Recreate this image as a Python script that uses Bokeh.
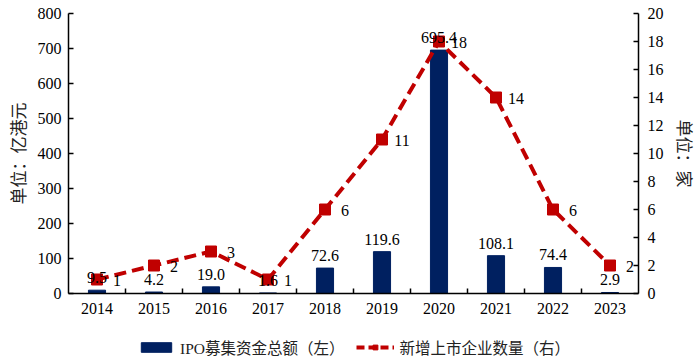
from bokeh.plotting import figure
from bokeh.layouts import column
from bokeh.models import (Range1d, LinearAxis, FixedTicker, ColumnDataSource,
                          Legend, LegendItem, LabelSet)
from bokeh.embed import file_html
from bokeh.resources import INLINE

years = [2014, 2015, 2016, 2017, 2018, 2019, 2020, 2021, 2022, 2023]
ipo_funds = [9.5, 4.2, 19.0, 1.6, 72.6, 119.6, 695.4, 108.1, 74.4, 2.9]
new_listings = [1, 2, 3, 1, 6, 11, 18, 14, 6, 2]
fund_labels = ["9.5", "4.2", "19.0", "1.6", "72.6", "119.6", "695.4", "108.1", "74.4", "2.9"]
count_labels = [str(v) for v in new_listings]
series_names = ["IPO募集资金总额（左）", "新增上市企业数量（右）"]

BAR = "#002060"
RED = "#C00000"
SERIF = "Liberation Serif"
MIX = "'Liberation Serif', 'Noto Sans CJK SC'"

src = ColumnDataSource(dict(x=years, funds=ipo_funds, cnt=new_listings,
                            flab=fund_labels, clab=count_labels))

p = figure(width=700, height=330, output_backend="svg", toolbar_location=None,
           x_range=Range1d(2013.5, 2023.5), y_range=Range1d(0, 800),
           min_border_left=68, min_border_right=60, min_border_top=13,
           min_border_bottom=37)
p.outline_line_color = None
p.grid.visible = False
p.extra_y_ranges = {"cnt": Range1d(0, 20)}

# x axis: year labels at centres, small inward ticks between categories
xa = p.xaxis[0]
xa.ticker = FixedTicker(ticks=years, minor_ticks=[y + 0.5 for y in years[:-1]])
xa.major_tick_in = 0
xa.major_tick_out = 0
xa.minor_tick_in = 5
xa.minor_tick_out = 0
xa.major_label_standoff = 9
xa.axis_line_color = "black"
xa.axis_line_width = 1.5
xa.minor_tick_line_width = 1.5
xa.major_label_text_font = SERIF
xa.major_label_text_font_size = "16px"
xa.major_label_text_color = "black"

yl = p.yaxis[0]
yl.ticker = FixedTicker(ticks=list(range(0, 801, 100)), minor_ticks=[])
yl.major_tick_in = 5
yl.major_tick_out = 0
yl.major_label_standoff = 7
yl.axis_line_width = 1.5
yl.major_tick_line_width = 1.5
yl.major_label_text_font = SERIF
yl.major_label_text_font_size = "16px"
yl.major_label_text_color = "black"
yl.axis_label = "单位：亿港元"
yl.axis_label_text_font = "Noto Sans CJK SC"
yl.axis_label_text_font_size = "17px"
yl.axis_label_text_font_style = "normal"
yl.axis_label_text_color = "#222222"
yl.axis_label_standoff = 5

yr = LinearAxis(y_range_name="cnt",
                ticker=FixedTicker(ticks=list(range(0, 21, 2)), minor_ticks=[]))
yr.major_tick_in = 5
yr.major_tick_out = 0
yr.major_label_standoff = 9
yr.axis_line_width = 1.5
yr.major_tick_line_width = 1.5
yr.major_label_text_font = SERIF
yr.major_label_text_font_size = "16px"
yr.major_label_text_color = "black"
yr.axis_label = "单位：家"
yr.axis_label_text_font = "Noto Sans CJK SC"
yr.axis_label_text_font_size = "17px"
yr.axis_label_text_font_style = "normal"
yr.axis_label_text_color = "#222222"
yr.axis_label_standoff = 6
p.add_layout(yr, "right")

# bars
p.vbar(x="x", top="funds", width=0.3, color=BAR, source=src)

# line + markers
p.line(x="x", y="cnt", y_range_name="cnt", line_color=RED, line_width=4,
       line_dash="12 6", source=src)
p.scatter(x="x", y="cnt", y_range_name="cnt", marker="square", size=11,
          fill_color=RED, line_color=RED, source=src)

# value labels
p.add_layout(LabelSet(x="x", y="funds", text="flab", source=src, text_align="center",
                      text_baseline="bottom", y_offset=7, text_font=SERIF,
                      text_font_size="16px", text_color="black"))
p.add_layout(LabelSet(x="x", y="cnt", y_range_name="cnt", text="clab", source=src,
                      text_align="center", text_baseline="middle", x_offset=20,
                      y_offset=-1, text_font=SERIF, text_font_size="16px",
                      text_color="black"))

# legend strip: a small figure whose renderers carry only style (NaN data)
lg = figure(width=700, height=30, output_backend="svg", toolbar_location=None,
            x_range=Range1d(0, 1), y_range=Range1d(0, 1),
            x_axis_type=None, y_axis_type=None,
            min_border_left=0, min_border_right=0, min_border_top=0,
            min_border_bottom=0)
lg.grid.visible = False
lg.outline_line_color = None
nan_src = ColumnDataSource(dict(x=[float("nan")], y=[float("nan")]))
lb = lg.vbar(x="x", top="y", width=0.3, color=BAR, source=nan_src)
ll = lg.line(x="x", y="y", line_color=RED, line_width=4, line_dash="8 4", source=nan_src)
lm = lg.scatter(x="x", y="y", marker="square", size=11, fill_color=RED,
                line_color=RED, source=nan_src)

legend = Legend(items=[LegendItem(label=series_names[0], renderers=[lb]),
                       LegendItem(label=series_names[1], renderers=[ll, lm])],
                orientation="horizontal", location=(69, 2),
                label_text_font=MIX, label_text_font_size="15.5px",
                label_text_color="#222222", glyph_width=38, glyph_height=12,
                label_standoff=5, spacing=12, padding=0, margin=0,
                background_fill_alpha=0, border_line_color=None)
lg.add_layout(legend, "center")

layout = column(p, lg, spacing=0)
open("out.html", "w").write(file_html(layout, INLINE))
